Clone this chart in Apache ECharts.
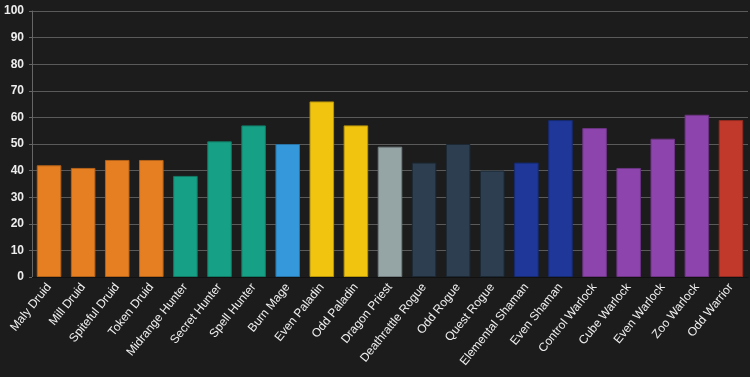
<!DOCTYPE html>
<html><head><meta charset="utf-8">
<script src="https://cdn.jsdelivr.net/npm/echarts@6/dist/echarts.min.js"></script>
<style>html,body{margin:0;padding:0;background:#1c1c1c}#c{width:750px;height:377px}</style>
</head><body><div id="c"></div>
<script>
const categories = ["Maly Druid","Mill Druid","Spiteful Druid","Token Druid","Midrange Hunter","Secret Hunter","Spell Hunter","Burn Mage","Even Paladin","Odd Paladin","Dragon Priest","Deathrattle Rogue","Odd Rogue","Quest Rogue","Elemental Shaman","Even Shaman","Control Warlock","Cube Warlock","Even Warlock","Zoo Warlock","Odd Warrior"];
const values = [42,41,44,44,38,51,57,50,66,57,49,43,50,40,43,59,56,41,52,61,59];
const barColors = ["#e67e22","#e67e22","#e67e22","#e67e22","#16a085","#16a085","#16a085","#3498db","#f1c40f","#f1c40f","#95a5a6","#2c3e50","#2c3e50","#2c3e50","#1e3799","#1e3799","#8e44ad","#8e44ad","#8e44ad","#8e44ad","#c0392b"];
const borderColors = ["#b3621a","#b3621a","#b3621a","#b3621a","#117a65","#117a65","#117a65","#2874a6","#b7950b","#b7950b","#717d7e","#1c2833","#1c2833","#1c2833","#152a70","#152a70","#6c3483","#6c3483","#6c3483","#6c3483","#922b21"];
const yTicks = {min:0, max:100, interval:10};

const chart = echarts.init(document.getElementById('c'));
chart.setOption({
  backgroundColor:'#1c1c1c',
  animation:false,
  grid:{left:32,right:2,top:11,bottom:100},
  xAxis:{type:'category',data:categories,
    axisLine:{lineStyle:{color:'#111'}},
    axisTick:{show:false},
    axisLabel:{rotate:51,color:'#eeeeee',fontFamily:'Liberation Sans, Arial',fontSize:12,interval:0,margin:8}},
  yAxis:{type:'value',min:yTicks.min,max:yTicks.max,interval:yTicks.interval,
    axisLine:{show:true,lineStyle:{color:'#666'}},
    axisTick:{show:true,length:3,lineStyle:{color:'#666'}},
    splitLine:{lineStyle:{color:'#5a5a5a'}},
    axisLabel:{color:'#eeeeee',fontFamily:'Liberation Sans, Arial',fontSize:12,fontWeight:'bold',margin:8}},
  series:[{type:'bar',barWidth:'72%',
    data:values.map((v,i)=>({value:v,itemStyle:{color:barColors[i],borderColor:borderColors[i],borderWidth:1}}))}]
});
</script></body></html>
